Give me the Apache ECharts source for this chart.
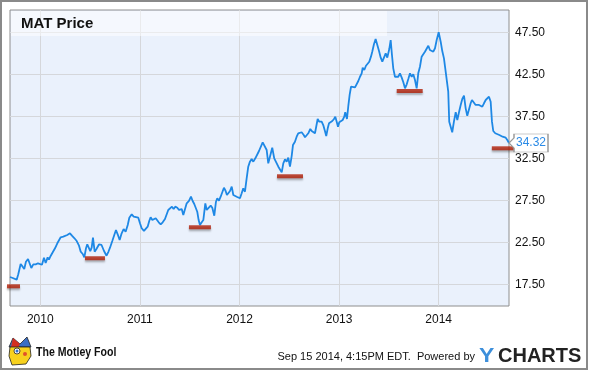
<!DOCTYPE html>
<html><head><meta charset="utf-8">
<script src="https://cdn.jsdelivr.net/npm/echarts@6/dist/echarts.min.js"></script>
<style>html,body{margin:0;padding:0;background:#fff}#c{width:590px;height:371px}</style>
</head><body><div id="c"></div>
<script>
// x values are decimal years, y values are MAT share price (USD)
const yearTicks = [2010, 2011, 2012, 2013, 2014];
const priceTicks = [17.5, 22.5, 27.5, 32.5, 37.5, 42.5, 47.5];
const matPrice = [
[2009.696,18.37],[2009.723,18.25],[2009.743,18.05],[2009.763,18.05],[2009.779,18.69],[2009.803,19.92],[2009.823,19.60],[2009.839,19.32],[2009.856,20.19],[2009.877,20.51],[2009.894,20.43],[2009.910,19.44],[2009.930,19.88],[2009.954,19.88],[2009.977,20.00],[2009.997,20.04],[2010.017,19.83],[2010.037,20.67],[2010.054,20.04],[2010.074,20.71],[2010.087,20.43],[2010.104,20.87],[2010.125,21.31],[2010.148,21.79],[2010.171,22.38],[2010.205,23.10],[2010.231,23.17],[2010.248,23.17],[2010.271,23.37],[2010.298,23.57],[2010.318,23.29],[2010.341,23.01],[2010.366,22.65],[2010.389,22.10],[2010.406,21.38],[2010.426,21.11],[2010.442,20.71],[2010.459,21.79],[2010.472,22.26],[2010.489,22.06],[2010.502,21.46],[2010.516,21.86],[2010.529,23.05],[2010.546,21.38],[2010.564,21.70],[2010.589,22.24],[2010.615,22.18],[2010.640,21.46],[2010.665,20.90],[2010.685,21.40],[2010.700,21.86],
[2010.723,22.65],[2010.743,23.37],[2010.760,23.96],[2010.777,23.45],[2010.797,22.77],[2010.817,23.57],[2010.837,24.08],[2010.857,23.76],[2010.878,24.56],[2010.894,25.43],[2010.918,25.83],[2010.938,25.55],[2010.958,25.75],[2010.984,25.43],[2011.001,24.76],[2011.018,24.17],[2011.041,23.85],[2011.061,23.76],[2011.078,24.36],[2011.094,25.04],[2011.108,25.48],[2011.125,25.15],[2011.142,25.04],[2011.159,25.36],[2011.172,25.55],[2011.189,24.88],[2011.209,24.64],[2011.229,24.88],[2011.252,25.27],[2011.269,25.43],[2011.285,26.35],[2011.305,26.55],[2011.322,26.74],[2011.339,26.46],[2011.355,26.74],[2011.376,26.62],[2011.393,26.35],
[2011.403,26.23],[2011.420,26.46],[2011.436,25.75],[2011.453,25.75],[2011.470,27.14],[2011.493,27.42],[2011.513,27.93],[2011.530,27.42],[2011.546,27.06],[2011.563,26.94],[2011.576,26.14],[2011.590,25.15],[2011.603,24.56],[2011.621,24.88],[2011.637,25.15],[2011.657,27.14],[2011.671,26.35],[2011.691,26.35],[2011.711,26.86],[2011.727,26.62],[2011.747,25.67],[2011.764,27.33],[2011.777,27.74],[2011.794,27.45],[2011.811,27.93],[2011.827,28.13],[2011.844,29.00],[2011.861,28.61],[2011.874,28.13],[2011.892,28.33],[2011.905,28.61],[2011.922,29.12],[2011.938,28.13],[2011.955,28.05],[2011.972,27.93],[2011.988,27.81],[2012.005,27.74],[2012.022,28.33],[2012.038,28.93],[2012.055,28.52],[2012.072,30.12],[2012.088,31.50],[2012.105,32.10],[2012.122,32.42],[2012.139,32.10],[2012.159,32.50],[2012.179,32.30],[2012.196,33.37],[2012.213,33.49],[2012.233,34.40],[2012.249,34.40],
[2012.273,33.49],[2012.289,31.90],[2012.306,32.69],[2012.329,33.76],[2012.349,32.50],[2012.374,31.90],[2012.390,31.50],[2012.407,31.31],[2012.424,30.83],[2012.440,31.90],[2012.457,32.38],[2012.474,32.10],[2012.490,32.57],[2012.507,31.50],[2012.524,32.77],[2012.537,34.08],[2012.557,34.48],[2012.574,35.07],[2012.590,35.48],[2012.607,35.67],[2012.624,35.60],[2012.645,35.27],[2012.658,35.00],[2012.675,35.07],[2012.691,35.48],[2012.711,35.99],[2012.725,35.75],[2012.741,35.60],[2012.758,35.48],[2012.775,35.48],[2012.785,37.18],[2012.801,36.86],[2012.825,36.86],[2012.841,36.46],[2012.858,35.75],[2012.871,35.15],[2012.886,36.07],[2012.899,36.67],[2012.916,36.79],[2012.932,36.94],[2012.949,37.18],[2012.962,37.45],[2012.976,36.86],[2012.989,36.26],[2013.002,36.79],[2013.019,36.86],[2013.036,37.06],[2013.052,37.45],[2013.062,37.98],[2013.079,37.18],[2013.092,38.64],[2013.106,40.04],[2013.120,41.02],
[2013.137,40.90],[2013.160,40.95],[2013.177,41.11],[2013.193,41.70],[2013.210,42.21],[2013.227,42.62],[2013.237,43.29],[2013.253,43.01],[2013.270,43.52],[2013.287,43.69],[2013.303,44.00],[2013.320,44.60],[2013.333,45.19],[2013.350,46.07],[2013.367,46.70],[2013.384,45.99],[2013.401,45.27],[2013.418,44.48],[2013.434,44.00],[2013.451,44.08],[2013.468,45.00],[2013.484,44.48],[2013.504,45.51],[2013.518,46.58],[2013.531,44.80],[2013.544,43.21],[2013.561,42.21],[2013.578,42.10],[2013.594,42.21],[2013.611,42.62],[2013.629,42.10],[2013.645,41.55],[2013.662,40.83],[2013.679,41.31],[2013.695,41.94],[2013.712,42.62],[2013.729,42.21],[2013.745,42.50],[2013.762,41.82],[2013.779,40.83],[2013.795,42.62],[2013.812,43.40],[2013.829,44.60],[2013.845,44.80],[2013.862,45.19],[2013.879,45.39],[2013.896,45.90],[2013.912,45.39],[2013.930,45.39],[2013.946,45.19],[2013.963,45.60],[2013.980,46.58],[2014.000,47.50],
[2014.020,46.38],[2014.036,45.27],[2014.053,44.40],[2014.066,43.21],[2014.083,43.13],[2014.096,40.43],[2014.106,36.86],[2014.120,37.06],[2014.136,35.60],[2014.153,36.86],[2014.171,37.98],[2014.187,37.06],[2014.204,37.98],[2014.221,38.85],[2014.237,39.56],[2014.254,39.95],[2014.271,38.45],[2014.287,37.57],[2014.304,37.57],[2014.321,39.05],[2014.334,39.44],[2014.354,39.32],[2014.371,38.85],[2014.388,38.76],[2014.405,38.85],[2014.422,39.05],[2014.438,38.64],[2014.455,39.05],[2014.472,39.44],[2014.488,39.64],[2014.505,39.83],[2014.522,39.24],[2014.535,36.86],[2014.548,35.75],[2014.568,35.48],[2014.588,35.39],[2014.609,35.27],[2014.626,35.36],[2014.642,35.07],[2014.655,34.88],[2014.673,34.95],[2014.689,34.68],[2014.706,34.32]
];
// red marks: yearly lows
const annualLows = [[2009.731,17.26],[2010.549,20.60],[2011.603,24.29],[2012.507,30.36],[2013.709,40.51],[2014.649,33.69]];
const lowMarkWidths = [13, 20, 22, 26, 26, 23];

const X_MIN = 2009.696, X_MAX = 2014.706, Y_MIN = 14.916, Y_MAX = 50.155;
const lastPoint = matPrice[matPrice.length - 1];
const FONT = '"Liberation Sans", Arial, sans-serif';

const chart = echarts.init(document.getElementById('c'), null, {renderer: 'canvas'});
chart.setOption({
  animation: false,
  grid: {left: 10, top: 10, width: 499, height: 296, show: true, backgroundColor: '#eaf1fc',
         borderColor: '#8e8e8e', borderWidth: 1},
  xAxis: {
    type: 'value', min: X_MIN, max: X_MAX,
    axisLine: {show: false},
    axisTick: {show: false, customValues: yearTicks},
    axisLabel: {customValues: yearTicks, formatter: v => String(Math.round(v)), color: '#111',
                fontSize: 12, fontFamily: FONT, margin: 8},
    splitLine: {show: true, lineStyle: {color: '#d5d7db', width: 1}}
  },
  yAxis: {
    type: 'value', position: 'right', min: Y_MIN, max: Y_MAX,
    axisLine: {show: false},
    axisTick: {show: false, customValues: priceTicks},
    axisLabel: {customValues: priceTicks, formatter: v => v.toFixed(2), color: '#111',
                fontSize: 12, fontFamily: FONT, margin: 6},
    splitLine: {show: true, lineStyle: {color: '#d5d7db', width: 1}}
  },
  series: [
    {
      type: 'line', data: matPrice, symbol: 'none', showSymbol: false, z: 3,
      lineStyle: {color: '#1e88e5', width: 1.8},
      markPoint: {
        symbol: 'path://M0,9L5,4L5,0L39,0L39,18L5,18L5,14Z',
        symbolSize: [39, 18], symbolOffset: [19.5, 0], symbolKeepAspect: false,
        itemStyle: {color: '#fff', borderColor: '#999', borderWidth: 1},
        label: {show: true, position: 'inside', offset: [2.5, 0], color: '#2a8ae6', fontSize: 12,
                fontFamily: FONT, formatter: lastPoint[1].toFixed(2)},
        data: [{coord: lastPoint, value: lastPoint[1]}],
        z: 10, silent: true
      }
    },
    {
      type: 'scatter', data: annualLows, symbol: 'rect', clip: false, z: 4, silent: true,
      symbolSize: (v, p) => [lowMarkWidths[p.dataIndex], 4],
      itemStyle: {color: '#b01e06', shadowColor: 'rgba(0,0,0,0.35)', shadowBlur: 2, shadowOffsetY: 2}
    }
  ],
  graphic: [
    {type: 'rect', z: 1, silent: true, shape: {x: 11, y: 11, width: 376, height: 25},
     style: {fill: 'rgba(255,255,255,0.5)'}},
    {type: 'text', z: 5, silent: true,
     style: {text: 'MAT Price', x: 21, y: 24, align: 'left', verticalAlign: 'middle',
             font: 'bold 15px ' + FONT, fill: '#111'}},
    {type: 'rect', z: 100, silent: true, shape: {x: 1, y: 1, width: 586, height: 368},
     style: {fill: 'none', stroke: '#8a8a8a', lineWidth: 2}},
    // Motley Fool jester icon
    {type: 'polygon', z: 5, silent: true, shape: {points: [[9,347],[13,338],[20,344],[27,337],[31,347]]},
     style: {fill: '#3b6fc4', stroke: '#222', lineWidth: 0.8}},
    {type: 'polygon', z: 6, silent: true, shape: {points: [[13,338],[20,344],[18,348],[11,347]]},
     style: {fill: '#d42f20'}},
    {type: 'polygon', z: 6, silent: true, shape: {points: [[10,347],[30,347],[31,356],[26,364],[12,365],[9,356]]},
     style: {fill: '#f7d11e', stroke: '#222', lineWidth: 0.8}},
    {type: 'circle', z: 7, silent: true, shape: {cx: 17, cy: 351, r: 3}, style: {fill: '#fff', stroke: '#222', lineWidth: 0.8}},
    {type: 'circle', z: 8, silent: true, shape: {cx: 17, cy: 351, r: 1.5}, style: {fill: '#2a6fd0'}},
    {type: 'circle', z: 7, silent: true, shape: {cx: 25, cy: 354, r: 2}, style: {fill: '#e0522a'}},
    {type: 'text', z: 5, silent: true, x: 36, y: 353, scaleX: 0.88,
     style: {text: 'The Motley Fool', x: 0, y: 0, align: 'left', verticalAlign: 'middle',
             font: 'bold 12px ' + FONT, fill: '#111'}},
    {type: 'text', z: 5, silent: true,
     style: {text: 'Sep 15 2014, 4:15PM EDT.  Powered by', x: 475, y: 357, align: 'right', verticalAlign: 'middle',
             font: '11px ' + FONT, fill: '#111'}},
    {type: 'text', z: 5, silent: true, x: 479, y: 356, scaleX: 1.15,
     style: {text: 'Y', x: 0, y: 0, align: 'left', verticalAlign: 'middle',
             font: 'bold 20px ' + FONT, fill: '#3d8fdb'}},
    {type: 'text', z: 5, silent: true,
     style: {text: 'CHARTS', x: 498, y: 356, align: 'left', verticalAlign: 'middle',
             font: 'bold 20px ' + FONT, fill: '#222'}}
  ]
});
</script></body></html>
